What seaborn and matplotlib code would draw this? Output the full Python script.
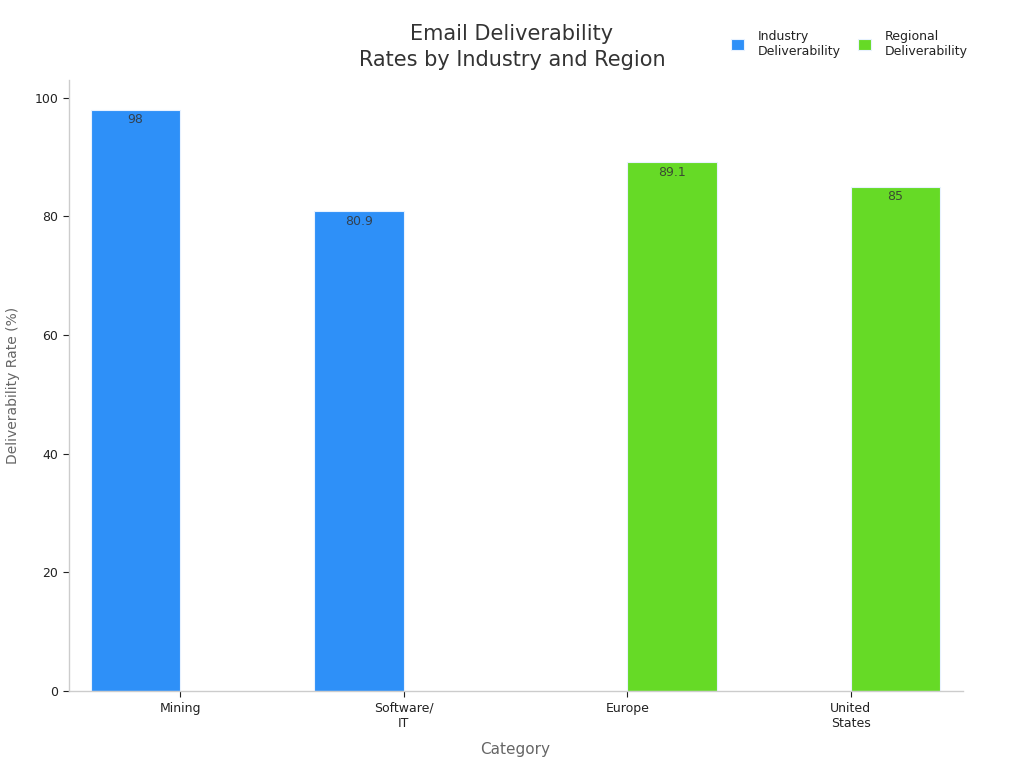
import matplotlib
matplotlib.use("Agg")
import matplotlib.pyplot as plt
import seaborn as sns
import pandas as pd

categories = ["Mining", "Software/\nIT", "Europe", "United\nStates"]
groups = ["Industry\nDeliverability", "Industry\nDeliverability",
          "Regional\nDeliverability", "Regional\nDeliverability"]
values = [98, 80.9, 89.1, 85]
hue_order = ["Industry\nDeliverability", "Regional\nDeliverability"]
palette = {"Industry\nDeliverability": "#2E90F8", "Regional\nDeliverability": "#66DA26"}

df = pd.DataFrame({"Category": categories, "Group": groups, "Value": values})

sns.set_theme(style="white")
plt.rcParams['font.family'] = ['DejaVu Sans']

fig = plt.figure(figsize=(10.24, 7.68), dpi=100)
ax = fig.add_axes([0.067, 0.100, 0.873, 0.796])

sns.barplot(data=df, x="Category", y="Value", hue="Group", hue_order=hue_order,
            order=categories, palette=palette, dodge=True, width=0.8, saturation=1,
            edgecolor="#e8f2ff", linewidth=0.8, ax=ax, legend=True)

for cont in ax.containers:
    ax.bar_label(cont, labels=[("%g" % v) if v == v else "" for v in cont.datavalues],
                 padding=-12, fontsize=9, color="#333333", alpha=0.85)

ax.set_ylim(0, 103)
ax.set_xlim(-0.5, 3.5)
ax.set_yticks([0, 20, 40, 60, 80, 100])
ax.tick_params(axis="both", labelsize=9, colors="#222222", length=4, width=0.8,
               left=True, bottom=True)
for t in ax.get_xticklines() + ax.get_yticklines():
    t.set_color("#666666")
for s in ["top", "right"]:
    ax.spines[s].set_visible(False)
for s in ["left", "bottom"]:
    ax.spines[s].set_color("#cccccc")
    ax.spines[s].set_linewidth(1)

ax.set_xlabel("Category", fontsize=11, color="#666666", labelpad=9)
ax.set_ylabel("Deliverability Rate (%)", fontsize=10, color="#666666", labelpad=10)

fig.suptitle("Email Deliverability\nRates by Industry and Region", x=0.5, y=0.969,
             fontsize=15, color="#333333", linespacing=1.4)

leg = ax.legend(loc="upper right", bbox_to_anchor=(1.018, 1.10), ncol=2, frameon=False,
                fontsize=9, handlelength=1.0, handleheight=1.0, columnspacing=1.4,
                handletextpad=1.1)
for t in leg.get_texts():
    t.set_color("#222222")

fig.savefig("out.png", dpi=100)
